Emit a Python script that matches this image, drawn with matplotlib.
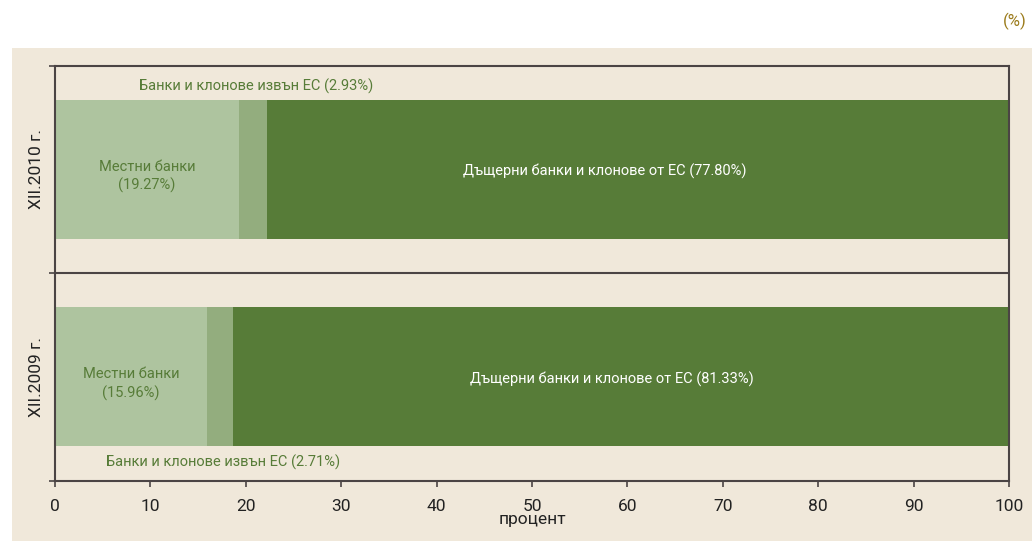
import matplotlib.pyplot as plt
from matplotlib.patches import Rectangle
import numpy as np

plt.rcParams['font.family'] = ['Roboto', 'DejaVu Sans']

# Данни
periods = ["XII.2009 г.", "XII.2010 г."]
local_banks = [15.96, 19.27]
non_eu_banks = [2.71, 2.93]
eu_banks = [81.33, 77.80]
xticks = np.arange(0, 101, 10)

c_light = "#aec49f"
c_mid = "#93ad7e"
c_dark = "#577c38"
c_bg = "#f0e8da"
c_axis = "#4b4444"

fig = plt.figure(figsize=(10.32, 5.45), dpi=100)
fig.patches.append(Rectangle((0.0116, 0.0073), 0.99, 0.905, transform=fig.transFigure,
                             facecolor=c_bg, edgecolor="none", zorder=-1))
fig.text(0.9835, 0.9615, "(%)", color="#9b7b1b", fontsize=12, ha="center", va="center")

ax = fig.add_axes([0.0533, 0.1183, 0.9244, 0.7611])
ax.set_facecolor(c_bg)

y = np.arange(len(periods))
h = 0.67
ax.barh(y, local_banks, height=h, color=c_light, linewidth=0)
ax.barh(y, non_eu_banks, left=local_banks, height=h, color=c_mid, linewidth=0)
left_eu = np.array(local_banks) + np.array(non_eu_banks)
ax.barh(y, eu_banks, left=left_eu, height=h, color=c_dark, linewidth=0)

ax.set_xlim(0, 100)
ax.set_ylim(-0.5, 1.5)
ax.axhline(0.5, color=c_axis, lw=1.5)

for s in ax.spines.values():
    s.set_color(c_axis)
    s.set_linewidth(1.5)

ax.set_xticks(xticks)
ax.set_yticks([-0.5, 0.5, 1.5])
ax.set_yticklabels([])
ax.tick_params(axis="both", direction="out", color=c_axis, width=1.2, length=4,
               labelsize=12.5, labelcolor="#222222")
ax.tick_params(axis="x", pad=9)
ax.set_xlabel("процент", fontsize=12.5, color="#222222")
ax.xaxis.set_label_coords(0.5, -0.075)

# Подписи на периодите
for yi, p in zip(y, periods):
    ax.text(-1.95, yi, p, rotation=90, ha="center", va="center", fontsize=12.5,
            color="#222222", transform=ax.transData, clip_on=False)

# Подписи на сегментите
local_x = [v / 2 for v in local_banks]
for yi, lx, v in zip(y, local_x, local_banks):
    ax.text(lx, yi - 0.035, f"Местни банки\n({v:.2f}%)", ha="center", va="center",
            fontsize=10.5, color=c_dark, linespacing=1.35)

eu_x = [58.4, 57.6]
for yi, ex, v in zip(y, eu_x, eu_banks):
    ax.text(ex, yi - 0.01, f"Дъщерни банки и клонове от ЕС ({v:.2f}%)", ha="center",
            va="center", fontsize=10.5, color="white")

non_eu_x = [17.6, 21.1]
non_eu_y = [-0.41, 1.40]
for ny, nx, v in zip(non_eu_y, non_eu_x, non_eu_banks):
    ax.text(nx, ny, f"Банки и клонове извън ЕС ({v:.2f}%)", ha="center",
            va="center", fontsize=10.5, color=c_dark)

fig.savefig("out.png", dpi=100)
